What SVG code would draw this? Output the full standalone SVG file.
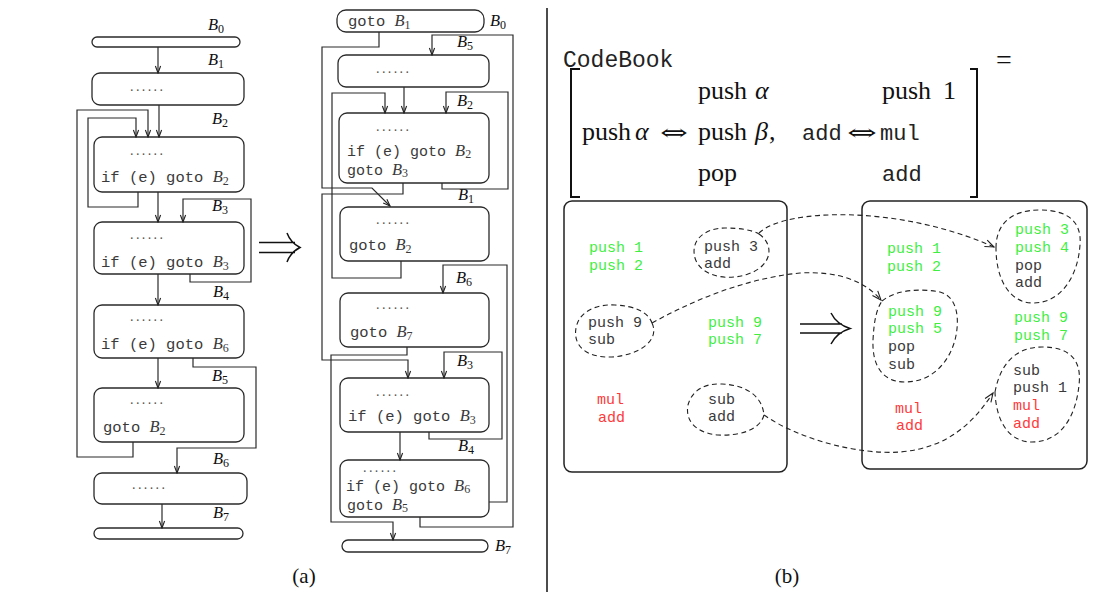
<svg xmlns="http://www.w3.org/2000/svg" width="1102" height="592" viewBox="0 0 1102 592">
<style>
.box{fill:#fff;stroke:#2a2a2a;stroke-width:1.3}
.bx2{fill:#fff;stroke:#222;stroke-width:1.5}
.e{fill:none;stroke:#2a2a2a;stroke-width:1.2}
.d{fill:none;stroke:#222;stroke-width:1.1;stroke-dasharray:5 3.5}
.blob{fill:none;stroke:#222;stroke-width:1.1;stroke-dasharray:5 3.5}
.ah{fill:none;stroke:#222;stroke-width:1.1}
.tt{font-family:"Liberation Mono",monospace;font-size:15.5px;fill:#3a3a3a}
.t2{font-size:15px}
.ct{font-family:"Liberation Mono",monospace;font-size:15px;fill:#3a3a3a}
.g{fill:#3fef3f}
.r{fill:#ff3a3a}
.mi{font-family:"Liberation Serif",serif;font-style:italic;font-size:16.5px}
.lbl{font-family:"Liberation Serif",serif;font-style:italic;font-size:16.5px;fill:#111}
.sub{font-family:"Liberation Serif",serif;font-style:normal;font-size:12px}
.dots{font-family:"Liberation Serif",serif;font-size:14px;letter-spacing:2.4px;fill:#555}
.rm{font-family:"Liberation Serif",serif;font-size:26px;fill:#111}
.gr{font-family:"Liberation Serif",serif;font-style:italic;font-size:26px;fill:#111}
.ar{font-family:"DejaVu Serif",serif;font-size:22px;fill:#111}
.tt2{font-family:"Liberation Mono",monospace;font-size:22px;fill:#222}
.cap{font-family:"Liberation Serif",serif;font-size:21px;fill:#111}
.big{fill:none;stroke:#111;stroke-width:1.5}
.brk{fill:none;stroke:#111;stroke-width:2}
</style>
<defs>
<marker id="a" markerUnits="userSpaceOnUse" markerWidth="10" markerHeight="8" refX="9" refY="4" orient="auto"><path class="ah" d="M2,1.4 L9,4 L2,6.6"/></marker>
<marker id="b" markerUnits="userSpaceOnUse" markerWidth="12" markerHeight="10" refX="10" refY="5" orient="auto"><path class="ah" d="M1,1.5 L10,5 L1,8.5"/></marker>
</defs>
<rect width="1102" height="592" fill="#fff"/>

<!-- (a) left: original layout -->
<g id="a-B0"><rect class="box" x="92" y="37" width="148" height="10" rx="5"/><text class="lbl" x="208" y="30">B<tspan class="sub" dy="3">0</tspan></text></g>
<g id="a-B1"><rect class="box" x="92" y="73" width="152" height="32" rx="8"/><text class="dots" x="130" y="91">......</text><text class="lbl" x="208" y="65">B<tspan class="sub" dy="3">1</tspan></text></g>
<g id="a-B2"><rect class="box" x="94" y="137" width="150" height="55" rx="8"/><text class="dots" x="130" y="155">......</text><text class="tt" x="101" y="182">if (e) goto <tspan class="mi">B</tspan><tspan class="sub" dy="3">2</tspan></text><text class="lbl" x="212" y="124">B<tspan class="sub" dy="3">2</tspan></text></g>
<g id="a-B3"><rect class="box" x="94" y="222" width="150" height="52" rx="8"/><text class="dots" x="130" y="239">......</text><text class="tt" x="101" y="267">if (e) goto <tspan class="mi">B</tspan><tspan class="sub" dy="3">3</tspan></text><text class="lbl" x="212" y="211">B<tspan class="sub" dy="3">3</tspan></text></g>
<g id="a-B4"><rect class="box" x="94" y="305" width="150" height="53" rx="8"/><text class="dots" x="130" y="321">......</text><text class="tt" x="101" y="349">if (e) goto <tspan class="mi">B</tspan><tspan class="sub" dy="3">6</tspan></text><text class="lbl" x="213" y="297">B<tspan class="sub" dy="3">4</tspan></text></g>
<g id="a-B5"><rect class="box" x="94" y="388" width="150" height="54" rx="8"/><text class="dots" x="130" y="404">......</text><text class="tt" x="103" y="432">goto <tspan class="mi">B</tspan><tspan class="sub" dy="3">2</tspan></text><text class="lbl" x="212" y="381">B<tspan class="sub" dy="3">5</tspan></text></g>
<g id="a-B6"><rect class="box" x="94" y="473" width="153" height="31" rx="8"/><text class="dots" x="132" y="489">......</text><text class="lbl" x="213" y="464">B<tspan class="sub" dy="3">6</tspan></text></g>
<g id="a-B7"><rect class="box" x="94" y="528" width="149" height="11" rx="5.5"/><text class="lbl" x="213" y="518">B<tspan class="sub" dy="3">7</tspan></text></g>

<!-- (a) right: reordered layout -->
<g id="b-B0"><rect class="box" x="337" y="10" width="147" height="22" rx="9"/><text class="tt" x="348" y="26">goto <tspan class="mi">B</tspan><tspan class="sub" dy="3">1</tspan></text><text class="lbl" x="490" y="26">B<tspan class="sub" dy="3">0</tspan></text></g>
<g id="b-B5"><rect class="box" x="338" y="55" width="151" height="32" rx="8"/><text class="dots" x="376" y="73">......</text><text class="lbl" x="457" y="47">B<tspan class="sub" dy="3">5</tspan></text></g>
<g id="b-B2"><rect class="box" x="339" y="113" width="150" height="70" rx="8"/><text class="dots" x="376" y="131">......</text><text class="tt t2" x="347" y="156">if (e) goto <tspan class="mi">B</tspan><tspan class="sub" dy="2">2</tspan></text><text class="tt t2" x="347" y="175">goto <tspan class="mi">B</tspan><tspan class="sub" dy="2">3</tspan></text><text class="lbl" x="457" y="106">B<tspan class="sub" dy="3">2</tspan></text></g>
<g id="b-B1"><rect class="box" x="340" y="207" width="149" height="54" rx="8"/><text class="dots" x="376" y="224">......</text><text class="tt" x="349" y="250">goto <tspan class="mi">B</tspan><tspan class="sub" dy="3">2</tspan></text><text class="lbl" x="458" y="200">B<tspan class="sub" dy="3">1</tspan></text></g>
<g id="b-B6"><rect class="box" x="340" y="293" width="149" height="54" rx="8"/><text class="dots" x="376" y="309">......</text><text class="tt" x="350" y="337">goto <tspan class="mi">B</tspan><tspan class="sub" dy="3">7</tspan></text><text class="lbl" x="456" y="283">B<tspan class="sub" dy="3">6</tspan></text></g>
<g id="b-B3"><rect class="box" x="340" y="378" width="149" height="54" rx="8"/><text class="dots" x="376" y="396">......</text><text class="tt" x="348" y="421">if (e) goto <tspan class="mi">B</tspan><tspan class="sub" dy="3">3</tspan></text><text class="lbl" x="457" y="366">B<tspan class="sub" dy="3">3</tspan></text></g>
<g id="b-B4"><rect class="box" x="340" y="460" width="149" height="57" rx="8"/><text class="dots" x="363" y="472">......</text><text class="tt t2" x="346" y="491">if (e) goto <tspan class="mi">B</tspan><tspan class="sub" dy="2">6</tspan></text><text class="tt t2" x="347" y="510">goto <tspan class="mi">B</tspan><tspan class="sub" dy="2">5</tspan></text><text class="lbl" x="458" y="451">B<tspan class="sub" dy="3">4</tspan></text></g>
<g id="b-B7"><rect class="box" x="342" y="540" width="146" height="12" rx="6"/><text class="lbl" x="495" y="551">B<tspan class="sub" dy="3">7</tspan></text></g>

<g id="connectors-a">
<path class="e" marker-end="url(#a)" d="M158,47 V73"/>
<path class="e" marker-end="url(#a)" d="M159,105 V137"/>
<path class="e" marker-end="url(#a)" d="M133,442 V457 H77 V110 H148 V137"/>
<path class="e" marker-end="url(#a)" d="M138,192 V207 H88 V118 H136 V137"/>
<path class="e" marker-end="url(#a)" d="M158,192 V222"/>
<path class="e" marker-end="url(#a)" d="M190,274 V282 H251 V199 H183 V222"/>
<path class="e" marker-end="url(#a)" d="M158,274 V305"/>
<path class="e" marker-end="url(#a)" d="M193,358 V367 H256 V448 H177 V473"/>
<path class="e" marker-end="url(#a)" d="M158,358 V388"/>
<path class="e" marker-end="url(#a)" d="M162,504 V528"/>
<path class="e" marker-end="url(#a)" d="M379,32 V47 H322 V188 H372 L390,206"/>
<path class="e" marker-end="url(#a)" d="M404,87 V113"/>
<path class="e" marker-end="url(#a)" d="M401,261 V278 H332 V93 H385 V113"/>
<path class="e" marker-end="url(#a)" d="M442,183 V189 H508 V92 H446 V113"/>
<path class="e" marker-end="url(#a)" d="M403,183 V194 H322 V360 H408 V378"/>
<path class="e" marker-end="url(#a)" d="M420,517 V527 H513 V35 H432 V55"/>
<path class="e" marker-end="url(#a)" d="M489,502 H507 V265 H443 V293"/>
<path class="e" marker-end="url(#a)" d="M407,347 V355 H331 V522 H393 V540"/>
<path class="e" marker-end="url(#a)" d="M429,432 V439 H502 V352 H444 V378"/>
<path class="e" marker-end="url(#a)" d="M400,432 V460"/>
</g>

<g id="arrow-a"><path class="big" d="M259,242.5 H295 M259,252.5 H295 M287,233 C 290,241 295,245 300,247.5 C 295,250 290,254 287,262"/></g>
<text class="cap" x="304" y="583" text-anchor="middle">(a)</text>

<line x1="547" y1="8" x2="547" y2="592" stroke="#111" stroke-width="1.5"/>

<!-- (b) codebook -->
<g id="codebook">
<text class="tt2" x="563" y="67" style="font-size:23px">CodeBook</text>
<text class="rm" x="996" y="69" style="font-size:28px">=</text>
<path class="brk" d="M580,69 H571 V197 H580"/>
<path class="brk" d="M970,69 H977 V197 H970"/>
<text class="rm" x="698" y="99">push</text><text class="gr" x="755" y="99">α</text>
<text class="rm" x="882" y="99">push</text><text class="rm" x="943" y="99">1</text>
<text class="rm" x="582" y="140">push</text><text class="gr" x="635" y="140">α</text>
<text class="ar" x="660" y="140" textLength="28" lengthAdjust="spacingAndGlyphs">⇔</text>
<text class="rm" x="698" y="140">push</text><text class="gr" x="755" y="140">β</text><text class="rm" x="769" y="140">,</text>
<text class="tt2" x="802" y="140">add</text>
<text class="ar" x="847" y="140" textLength="30" lengthAdjust="spacingAndGlyphs">⇔</text>
<text class="tt2" x="880" y="140">mul</text>
<text class="rm" x="698" y="181">pop</text>
<text class="tt2" x="882" y="181">add</text>
</g>

<!-- (b) before -->
<g id="block-before">
<rect class="bx2" x="564" y="201" width="223" height="271" rx="8"/>
<text class="ct g" x="589" y="252">push 1</text>
<text class="ct g" x="589" y="270">push 2</text>
<text class="ct g" x="708" y="327">push 9</text>
<text class="ct g" x="708" y="344">push 7</text>
<text class="ct r" x="597" y="404">mul</text>
<text class="ct r" x="598" y="422">add</text>
</g>
<g id="group-push3-add"><path class="blob" d="M759,234 C775,245 772,266 748,274 C725,282 700,275 695,258 C690,240 705,228 725,228 C740,228 752,230 759,234 Z"/><text class="ct" x="704" y="251">push 3</text><text class="ct" x="704" y="268">add</text></g>
<g id="group-push9-sub"><path class="blob" d="M652,323 C660,340 640,355 612,357 C585,358 573,345 576,328 C579,312 595,304 615,305 C635,306 648,312 652,323 Z"/><text class="ct" x="588" y="327">push 9</text><text class="ct" x="588" y="344">sub</text></g>
<g id="group-sub-add"><path class="blob" d="M764,415 C760,430 740,436 718,435 C695,433 685,420 688,405 C692,390 705,383 722,384 C745,385 762,395 764,415 Z"/><text class="ct" x="708" y="404">sub</text><text class="ct" x="708" y="421">add</text></g>

<g id="arrow-b"><path class="big" d="M800,324 H842 M800,333 H842 M831,313 C 835,321 842,326 850,328.5 C 842,331 835,336 831,344"/></g>

<!-- (b) after -->
<g id="block-after">
<rect class="bx2" x="862" y="201" width="225" height="268" rx="8"/>
<text class="ct g" x="887" y="253">push 1</text>
<text class="ct g" x="887" y="271">push 2</text>
<text class="ct g" x="1014" y="322">push 9</text>
<text class="ct g" x="1014" y="340">push 7</text>
<text class="ct r" x="895" y="413">mul</text>
<text class="ct r" x="896" y="430">add</text>
</g>
<g id="group-after-1"><path class="blob" d="M996,248 C996,225 1010,210 1040,210 C1068,210 1082,222 1080,245 C1078,275 1062,303 1033,303 C1010,303 996,280 996,248 Z"/><text class="ct g" x="1015" y="234">push 3</text><text class="ct g" x="1015" y="252">push 4</text><text class="ct" x="1015" y="270">pop</text><text class="ct" x="1015" y="287">add</text></g>
<g id="group-after-2"><path class="blob" d="M882,301 C895,290 920,288 940,292 C958,297 960,320 955,340 C948,365 930,382 905,382 C882,382 872,365 873,340 C874,322 876,310 882,301 Z"/><text class="ct g" x="888" y="316">push 9</text><text class="ct g" x="888" y="333">push 5</text><text class="ct" x="888" y="351">pop</text><text class="ct" x="888" y="369">sub</text></g>
<g id="group-after-3"><path class="blob" d="M995,392 C1000,365 1015,347 1042,347 C1070,347 1082,360 1079,385 C1076,415 1062,442 1032,442 C1008,442 996,420 995,392 Z"/><text class="ct" x="1013" y="375">sub</text><text class="ct" x="1013" y="392">push 1</text><text class="ct r" x="1013" y="410">mul</text><text class="ct r" x="1013" y="428">add</text></g>

<g id="connectors-b">
<path class="d" marker-end="url(#b)" d="M759,233 C785,208 900,205 994,247"/>
<path class="d" marker-end="url(#b)" d="M652,323 Q730,280 800,273 Q855,270 881,300"/>
<path class="d" marker-end="url(#b)" d="M764,415 C800,440 860,455 900,452 C950,448 975,420 993,393"/>
</g>
<text class="cap" x="787" y="583" text-anchor="middle">(b)</text>
</svg>
